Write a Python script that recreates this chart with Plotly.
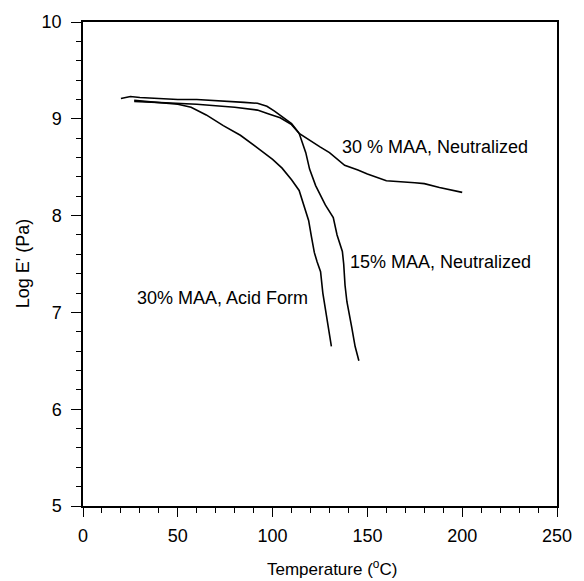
import plotly.graph_objects as go

# 30 % MAA, Neutralized
n30_x = [20, 25, 30, 40, 50, 60, 70, 85, 92, 97, 101, 105, 110, 114, 120, 125, 130, 135, 138, 145, 150, 160, 170, 175, 180, 188, 200]
n30_y = [9.21, 9.23, 9.22, 9.21, 9.20, 9.20, 9.19, 9.17, 9.16, 9.13, 9.08, 9.02, 8.95, 8.85, 8.77, 8.71, 8.65, 8.57, 8.52, 8.47, 8.43, 8.36, 8.35, 8.34, 8.33, 8.29, 8.24]

# 15% MAA, Neutralized
n15_x = [27, 40, 60, 80, 92, 98, 104, 110, 114, 117.5, 119.5, 122.7, 125, 127.8, 132, 134, 136.8, 137.5, 138.2, 139.2, 141.7, 143.5, 145.5]
n15_y = [9.18, 9.17, 9.15, 9.12, 9.09, 9.05, 9.01, 8.94, 8.85, 8.65, 8.48, 8.31, 8.22, 8.11, 7.98, 7.80, 7.63, 7.50, 7.28, 7.11, 6.85, 6.65, 6.50]

# 30% MAA, Acid Form
acid_x = [27, 40, 50, 57, 65, 74, 83, 92, 100, 105, 110, 114, 117, 119, 120.5, 122, 123.5, 125.3, 126.5, 127.8, 129.5, 131]
acid_y = [9.19, 9.17, 9.15, 9.12, 9.04, 8.93, 8.83, 8.70, 8.58, 8.49, 8.37, 8.26, 8.08, 7.95, 7.78, 7.62, 7.52, 7.42, 7.20, 7.04, 6.85, 6.65]

labels = ["30 % MAA, Neutralized", "15% MAA, Neutralized", "30% MAA, Acid Form"]
label_x = [135.6, 139.8, 27.4]
label_y = [8.71, 7.52, 7.15]

x_ticks = [0, 50, 100, 150, 200, 250]
y_ticks = [5, 6, 7, 8, 9, 10]

FONT = "Liberation Sans, Arial, Helvetica, sans-serif"

fig = go.Figure()
for xs, ys in [(n30_x, n30_y), (n15_x, n15_y), (acid_x, acid_y)]:
    fig.add_trace(go.Scatter(x=xs, y=ys, mode="lines",
                             line=dict(color="black", width=1.6),
                             showlegend=False, hoverinfo="skip"))

for t, lx, ly in zip(labels, label_x, label_y):
    fig.add_annotation(x=lx, y=ly, xref="x", yref="y", text=t, showarrow=False,
                       xanchor="left", yanchor="middle",
                       font=dict(family=FONT, size=18, color="black"))

fig.add_annotation(x=0.526, y=-0.128, xref="paper", yref="paper",
                   text="Temperature (<sup>o</sup>C)", showarrow=False,
                   xanchor="center", yanchor="middle",
                   font=dict(family=FONT, size=17, color="black"))
fig.add_annotation(x=-0.126, y=0.5, xref="paper", yref="paper",
                   text="Log E' (Pa)", showarrow=False, textangle=-90,
                   xanchor="center", yanchor="middle",
                   font=dict(family=FONT, size=18, color="black"))

axis_common = dict(showgrid=False, zeroline=False, showline=True, linecolor="black",
                   linewidth=1.5, mirror=True, ticks="outside", tickcolor="black",
                   tickwidth=1.3, tickfont=dict(family=FONT, size=18, color="black"))

fig.update_xaxes(range=[0, 250], tickvals=x_ticks, ticklen=9, ticklabelstandoff=4,
                 minor=dict(dtick=10, tick0=0, ticks="outside", ticklen=5,
                            tickcolor="black", tickwidth=1.1, showgrid=False),
                 **axis_common)
fig.update_yaxes(range=[5, 10], tickvals=y_ticks, ticklen=10, ticklabelstandoff=6,
                 minor=dict(dtick=0.2, tick0=5, ticks="outside", ticklen=5,
                            tickcolor="black", tickwidth=1.1, showgrid=False),
                 **axis_common)

fig.update_layout(width=584, height=581,
                  margin=dict(l=83, r=18, t=19, b=75),
                  paper_bgcolor="white", plot_bgcolor="white",
                  font=dict(family=FONT, size=17, color="black"))

fig.write_html("out.html")
